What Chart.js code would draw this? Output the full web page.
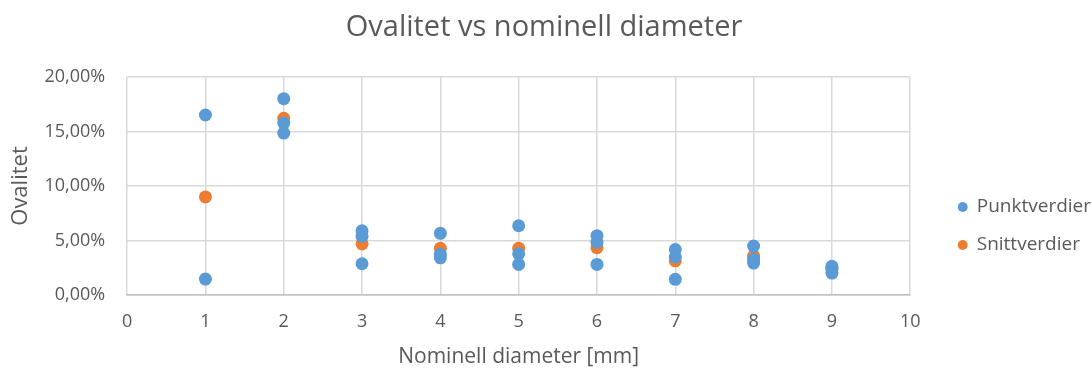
<!DOCTYPE html>
<html>
<head>
<meta charset="utf-8">
<script src="https://cdn.jsdelivr.net/npm/chart.js@4.4.1/dist/chart.umd.min.js"></script>
<style>
html,body{margin:0;padding:0;background:#fff;}
#wrap{width:1092px;height:370px;}
</style>
</head>
<body>
<div id="wrap"><canvas id="c" width="1092" height="370"></canvas></div>
<script>
const titleText = "Ovalitet vs nominell diameter";
const xTitle = "Nominell diameter [mm]";
const yTitle = "Ovalitet";
const seriesNames = ["Punktverdier", "Snittverdier"];

// Punktverdier (individual measurements), percent
const punktX = [1, 1, 2, 2, 2, 3, 3, 3, 4, 4, 4, 5, 5, 5, 6, 6, 6, 7, 7, 7, 8, 8, 8, 9, 9, 9];
const punktY = [16.5, 1.48, 18.0, 15.76, 14.85, 5.9, 5.4, 2.88, 5.67, 3.75, 3.42, 6.36, 3.79, 2.82, 5.45, 4.85, 2.82, 4.18, 3.5, 1.45, 4.5, 3.3, 2.94, 2.64, 2.5, 2.03];
// Snittverdier (averages), percent
const snittX = [1, 2, 3, 4, 5, 6, 7, 8, 9];
const snittY = [9.0, 16.2, 4.7, 4.3, 4.3, 4.35, 3.15, 3.58, 2.4];

const xTicks = [0, 1, 2, 3, 4, 5, 6, 7, 8, 9, 10];
const yTicks = [0, 5, 10, 15, 20];

const BLUE = "#5B9BD5";
const ORANGE = "#ED7D31";
const TXT = "#595959";
const FONT = "'Open Sans', 'Liberation Sans', sans-serif";

const toPts = (xs, ys) => xs.map((x, i) => ({x: x, y: ys[i]}));

// shift the legend block (right/down) and recentre the title like the original layout
const blockShift = {
  id: "blockShift",
  afterLayout(chart) {
    const lg = chart.legend;
    if (lg) {
      const dx = 29, dy = 41;
      lg.left += dx; lg.right += dx;
      lg.top += dy; lg.bottom += dy;
    }
    const tb = chart.titleBlock;
    if (tb) { tb.left += 8; tb.right += 8; }
  }
};

new Chart(document.getElementById("c"), {
  type: "scatter",
  data: {
    datasets: [
      {label: seriesNames[0], data: toPts(punktX, punktY), backgroundColor: BLUE, borderColor: BLUE, pointRadius: 6.5, pointHoverRadius: 6.5, borderWidth: 0},
      {label: seriesNames[1], data: toPts(snittX, snittY), backgroundColor: ORANGE, borderColor: ORANGE, pointRadius: 6.5, pointHoverRadius: 6.5, borderWidth: 0}
    ]
  },
  plugins: [blockShift],
  options: {
    responsive: false,
    animation: false,
    layout: {padding: {left: 0, right: 20, top: 0, bottom: 0}},
    plugins: {
      title: {display: true, text: titleText, color: TXT, font: {family: FONT, size: 29, weight: "normal"}, padding: {top: 10, bottom: 32}},
      legend: {
        position: "right",
        labels: {usePointStyle: true, pointStyle: "circle", boxWidth: 9, boxHeight: 7, color: TXT, font: {family: FONT, size: 19}, padding: 19}
      },
      tooltip: {enabled: false}
    },
    scales: {
      x: {
        type: "linear", min: 0, max: 10,
        afterBuildTicks: (axis) => { axis.ticks = xTicks.map(v => ({value: v})); },
        ticks: {color: TXT, font: {family: FONT, size: 18}, padding: 16},
        grid: {color: "#D9D9D9", lineWidth: 1.5, drawTicks: false},
        border: {color: "#BFBFBF", width: 1.5},
        title: {display: true, text: xTitle, color: TXT, font: {family: FONT, size: 21}, padding: {top: -4, bottom: 0}}
      },
      y: {
        type: "linear", min: 0, max: 20,
        afterBuildTicks: (axis) => { axis.ticks = yTicks.map(v => ({value: v})); },
        ticks: {color: TXT, font: {family: FONT, size: 18}, padding: 22, callback: (v) => v.toFixed(2).replace(".", ",") + "%"},
        grid: {color: "#D9D9D9", lineWidth: 1.5, drawTicks: false},
        border: {display: false},
        title: {display: true, text: yTitle, color: TXT, font: {family: FONT, size: 22}, padding: {top: 8, bottom: -12}}
      }
    }
  }
});
</script>
</body>
</html>
